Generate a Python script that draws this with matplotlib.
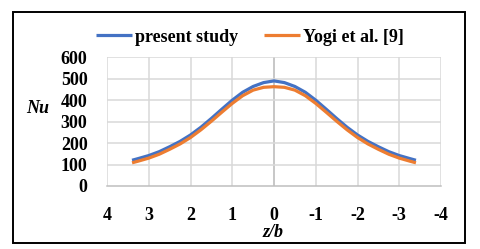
from matplotlib import pyplot as plt
from matplotlib.patches import Rectangle
import numpy as np

plt.rcParams['font.family'] = ['Liberation Serif', 'DejaVu Serif']
plt.rcParams['font.weight'] = 'bold'

# half of the (symmetric) profile
z_half = [3.4, 3.25, 3.0, 2.75, 2.5, 2.25, 2.0, 1.75, 1.5, 1.25, 1.0, 0.75, 0.5, 0.25, 0.0]
nu_present = [120, 128, 142, 160, 183, 208, 238, 274, 315, 358, 400, 437, 464, 482, 490]
nu_yogi = [108, 116, 130, 148, 171, 196, 226, 262, 302, 344, 385, 421, 447, 460, 463]

z = np.array(z_half + [-v for v in z_half[-2::-1]])
b = np.array(nu_present + nu_present[-2::-1])
o = np.array(nu_yogi + nu_yogi[-2::-1])

xticks = [4, 3, 2, 1, 0, -1, -2, -3, -4]
yticks = [0, 100, 200, 300, 400, 500, 600]

W, H = 480, 249
fig = plt.figure(figsize=(W/100, H/100), dpi=100)
ax = fig.add_axes([107/W, 1-186/H, (441-107)/W, (186-57.3)/H])

for t in xticks:
    ax.axvline(t, color='#b8b8b8' if t == 0 else '#d9d9d9', lw=1.1, zorder=0)
for t in yticks[1:]:
    ax.axhline(t, color='#d9d9d9', lw=1.1, zorder=0)

l1, = ax.plot(z, b, color='#4472C4', lw=2.3, label='present study', solid_capstyle='butt')
l2, = ax.plot(z, o, color='#ED7D31', lw=2.3, label='Yogi et al. [9]', solid_capstyle='butt')

ax.set_xlim(4, -4)
ax.set_ylim(0, 600)
ax.set_xticks(xticks)
ax.set_yticks(yticks)
ax.set_xticklabels([str(t) for t in xticks])
for s in ['top', 'right', 'left']:
    ax.spines[s].set_visible(False)
ax.spines['bottom'].set_color('#bfbfbf')
ax.spines['bottom'].set_linewidth(1.1)
ax.tick_params(length=0, labelsize=13)
ax.tick_params(axis='x', pad=15)
ax.tick_params(axis='y', pad=14)

fig.text(38/W, 1-108/H, 'Nu', fontsize=13, style='italic', fontweight='bold', ha='center', va='center')
fig.text(273/W, 1-232/H, 'z/b', fontsize=13, style='italic', fontweight='bold', ha='center', va='center')

fig.legend(handles=[l1, l2], loc='center', bbox_to_anchor=(250/W, 1-37/H), ncol=2, frameon=False,
           fontsize=13, handlelength=2.0, handletextpad=0.2, columnspacing=1.4)

fig.patches.append(Rectangle((12.7/W, 1-243/H), (465-12.7)/W, (243-11.7)/H, transform=fig.transFigure,
                             fill=False, edgecolor='black', lw=1.4))

fig.savefig('out.png', dpi=100)
